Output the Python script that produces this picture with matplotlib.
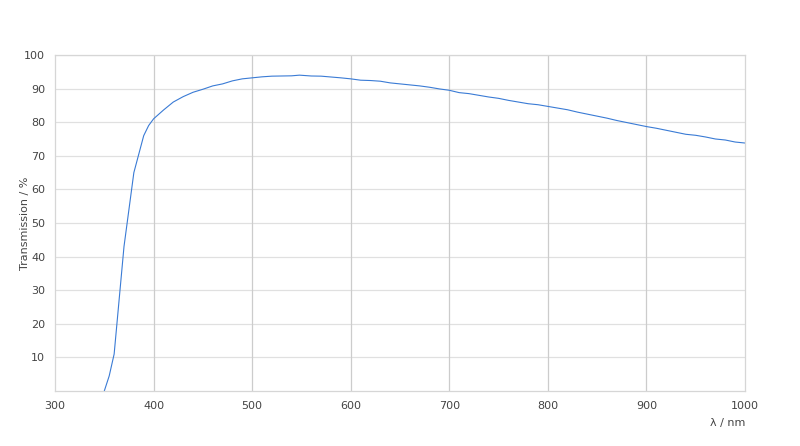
import matplotlib
matplotlib.use('Agg')
import matplotlib.pyplot as plt

# transmission spectrum
wavelength = [350, 355, 360, 365, 370, 375, 380, 385, 390, 395,
              400, 410, 420, 430, 440, 450, 460, 470, 480, 490,
              500, 510, 520, 530, 540, 548, 560, 570, 580, 590,
              600, 610, 620, 630, 640, 650, 660, 670, 680, 690,
              700, 710, 720, 730, 740, 750, 760, 770, 780, 790,
              800, 810, 820, 830, 840, 850, 860, 870, 880, 890,
              900, 910, 920, 930, 940, 950, 960, 970, 980, 990, 1000]
transmission = [0.0, 4.5, 11.0, 27.0, 43.0, 54.0, 65.0, 70.5, 76.0, 79.0,
                81.0, 83.6, 86.0, 87.6, 88.9, 89.8, 90.8, 91.4, 92.3, 92.9,
                93.2, 93.5, 93.7, 93.75, 93.8, 94.0, 93.75, 93.7, 93.45, 93.2,
                92.9, 92.5, 92.4, 92.2, 91.7, 91.4, 91.1, 90.8, 90.4, 89.9,
                89.5, 88.8, 88.5, 88.0, 87.5, 87.1, 86.5, 86.0, 85.5, 85.2,
                84.7, 84.2, 83.7, 83.0, 82.4, 81.8, 81.2, 80.5, 79.9, 79.3,
                78.7, 78.2, 77.6, 77.0, 76.4, 76.1, 75.6, 75.0, 74.7, 74.1, 73.8]

x_ticks = [300, 400, 500, 600, 700, 800, 900, 1000]
y_ticks = [10, 20, 30, 40, 50, 60, 70, 80, 90, 100]

text_color = '#444444'

fig = plt.figure(figsize=(8, 4.46), dpi=100)
ax = fig.add_axes([0.06875, 0.1233, 0.8625, 0.7534])

ax.plot(wavelength, transmission, color='#3a7bd5', linewidth=0.8)

ax.set_xlim(300, 1000)
ax.set_ylim(0, 100)
ax.set_xticks(x_ticks)
ax.set_yticks(y_ticks)

for y in y_ticks:
    ax.axhline(y, color='#e0e0e0', linewidth=0.9, zorder=0)
for x in x_ticks[1:-1]:
    ax.axvline(x, color='#cccccc', linewidth=0.9, zorder=0)

for s in ax.spines.values():
    s.set_color('#d6d6d6')
    s.set_linewidth(0.9)

ax.tick_params(length=0, labelsize=8, labelcolor=text_color, pad=7)
ax.set_ylabel('Transmission / %', fontsize=8, color=text_color)
ax.yaxis.set_label_coords(-0.036, 0.5)
ax.set_xlabel('λ / nm', fontsize=8, color=text_color, loc='right', labelpad=5)

fig.savefig('out.png', dpi=100)
